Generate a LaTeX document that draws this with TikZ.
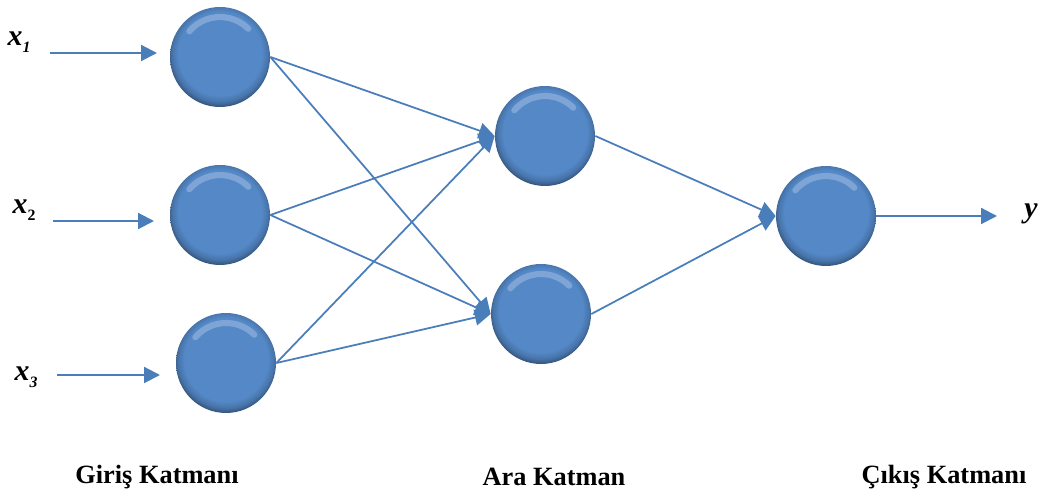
\documentclass[tikz,border=0pt]{standalone}
\usepackage{fontspec}
\setmainfont{Liberation Serif}
\usetikzlibrary{arrows.meta}

\definecolor{nodeblue}{RGB}{84,136,199}
\definecolor{linkblue}{RGB}{74,126,187}
\pgfdeclareradialshading{bevel}{\pgfpoint{0bp}{3bp}}{color(0bp)=(nodeblue); color(21bp)=(nodeblue); color(24bp)=(nodeblue!85!black); color(26.5bp)=(nodeblue!60!black); color(28bp)=(nodeblue!35!black); color(50bp)=(nodeblue!35!black)}

\newcommand{\sub}[1]{\raisebox{-4pt}{\fontsize{9}{10}\selectfont #1}}

\tikzset{
  neuron/.style={circle, minimum size=2cm, inner sep=0pt, shading=bevel,
    path picture={
      \draw[line width=3.5pt, white!35!nodeblue, opacity=0.7, line cap=round]
        ([shift={(140:0.8cm)}]path picture bounding box.center) arc[start angle=140, end angle=45, radius=0.8cm];
    }},
  link/.style={draw=linkblue, line width=1pt, -{Triangle[length=9pt,width=9pt]}},
  lab/.style={font=\fontsize{15}{18}\selectfont\bfseries},
  inlab/.style={font=\fontsize{17}{18}\selectfont\bfseries\itshape}
}

\begin{document}
\begin{tikzpicture}[x=0.02cm, y=-0.02cm]
      \useasboundingbox (0,0) rectangle (1042,499);

      \node[neuron] (i1) at (220,57) {};
      \node[neuron] (i2) at (220,215) {};
      \node[neuron] (i3) at (226,363) {};

      \node[neuron] (h1) at (545,136) {};
      \node[neuron] (h2) at (541,314) {};

      \node[neuron] (o) at (826,216) {};

      % inputs
      \node[inlab] (x1) at (19,42) {x\sub{\itshape 1}};
      \node[inlab] (x2) at (24,210) {x\sub{\upshape 2}};
      \node[inlab] (x3) at (26,377) {x\sub{\itshape 3}};

      \coordinate (s1) at (50,53);
      \coordinate (s2) at (53,221);
      \coordinate (s3) at (57,375);
      \coordinate (e1) at (157,53);
      \coordinate (e2) at (154,221);
      \coordinate (e3) at (160,375);

      \draw[link, line width=1.2pt] (s1) -- (e1);
      \draw[link, line width=1.2pt] (s2) -- (e2);
      \draw[link, line width=1.2pt] (s3) -- (e3);

      \foreach \a in {i1,i2,i3}
        \foreach \b in {h1,h2}
          \draw[link] (\a.east) -- (\b.west);

      \draw[link] (h1.east) -- (o.west);
      \draw[link] (h2.east) -- (o.west);

      % output
      \node[inlab] (y) at (1031,214) {y};
      \coordinate (ye) at (997,216);
      \draw[link, line width=1.2pt] (o.east) -- (ye);

      \node[lab] (l1) at (157,477) {Giriş Katmanı};
      \node[lab] (l2) at (554,477) {Ara Katman};
      \node[lab] (l3) at (944,477) {Çıkış Katmanı};
    \end{tikzpicture}
\end{document}
